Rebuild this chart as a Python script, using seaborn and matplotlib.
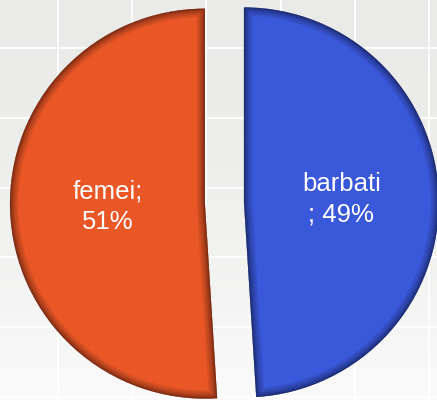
import numpy as np
import matplotlib
matplotlib.use("Agg")
import matplotlib.pyplot as plt
import matplotlib.colors as mcolors
import seaborn as sns
from matplotlib.patches import PathPatch

# data
categories = ["barbati", "femei"]
shares = [49, 51]
label_texts = ["barbati\n; 49%", "femei;\n51%"]
slice_colors = ["#3A58DA", "#E95727"]
explode = [0.1, 0.1]

sns.set_theme(style="white")
plt.rcParams["font.family"] = ["Liberation Sans", "DejaVu Sans"]

fig = plt.figure(figsize=(4.37, 4.0), dpi=100)

# background: light grey gradient with white grid
bg = fig.add_axes([0, 0, 1, 1])
top = np.array(mcolors.to_rgb("#EAEAE8"))
bottom = np.array(mcolors.to_rgb("#FAFAFA"))
t = np.linspace(0, 1, 200)[:, None, None] ** 1.6
grad = top * (1 - t) + bottom * t
bg.imshow(grad, extent=[0, 437, 400, 0], aspect="auto", zorder=0)
bg.set_xlim(0, 437)
bg.set_ylim(400, 0)
bg.set_xticks(np.arange(58, 437, 74.2))
bg.set_yticks(np.arange(48, 400, 69.8))
bg.grid(True, color="white", linewidth=1.3)
bg.tick_params(length=0, labelbottom=False, labelleft=False)
for s in bg.spines.values():
    s.set_visible(False)

# pie
ax = fig.add_axes([0, 0, 1, 1])
ax.set_facecolor("none")
wedges, texts = ax.pie(
    shares,
    colors=slice_colors,
    startangle=90,
    counterclock=False,
    explode=explode,
    labels=label_texts,
    labeldistance=0.5,
    wedgeprops=dict(linewidth=0),
    textprops=dict(color="white", fontsize=18.5),
)
for txt in texts:
    txt.set_ha("center")
    txt.set_va("center")
    txt.set_linespacing(1.32)

# soft bevel along slice edges
for w, c in zip(wedges, slice_colors):
    dark = tuple(np.array(mcolors.to_rgb(c)) * 0.3)
    for lw, a in [(12, 0.12), (9, 0.14), (6, 0.18), (3.5, 0.24), (1.5, 0.3)]:
        rim = PathPatch(w.get_path(), transform=w.get_transform(),
                        facecolor="none", edgecolor=dark, linewidth=lw, alpha=a)
        ax.add_patch(rim)
        rim.set_clip_path(w)

ax.set_aspect("auto")
ax.set_xlim(-1.151, 1.090)
ax.set_ylim(-1.010, 1.041)
ax.axis("off")

fig.savefig("out.png", dpi=100)
plt.close(fig)
